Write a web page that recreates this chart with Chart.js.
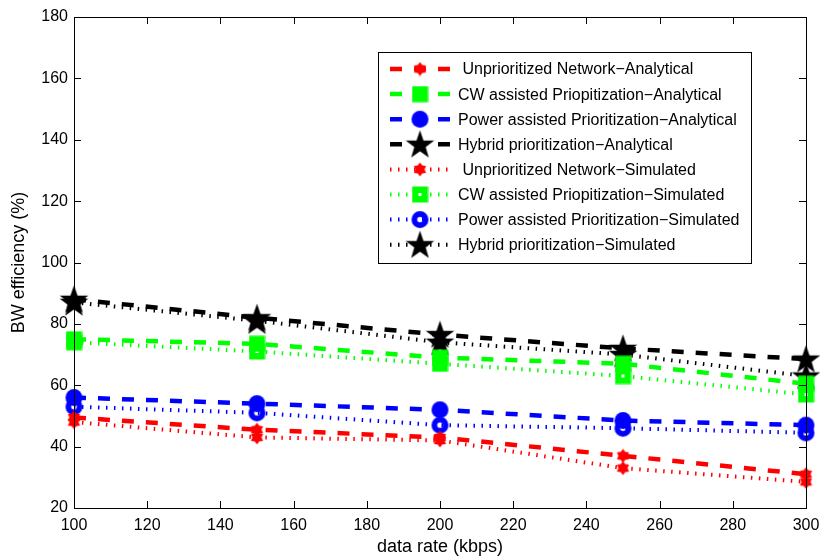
<!DOCTYPE html>
<html>
<head>
<meta charset="utf-8">
<script src="https://cdn.jsdelivr.net/npm/chart.js@4/dist/chart.umd.min.js"></script>
<style>
html,body{margin:0;padding:0;background:#fff;}
#wrap{width:820px;height:560px;}
</style>
</head>
<body>
<div id="wrap"><canvas id="c" width="820" height="560"></canvas></div>
<script>
// ---- data ----
const dataRates = [100, 150, 200, 250, 300];
const unprioritizedAnalytical = [49.5, 45.5, 43, 37, 31];
const cwAnalytical = [75, 73.5, 69, 67, 60.5];
const powerAnalytical = [56, 54, 52, 48.5, 47];
const hybridAnalytical = [88, 82, 76.5, 72, 68.5];
const unprioritizedSimulated = [48, 43, 42, 33, 28.5];
const cwSimulated = [74, 71, 67, 63, 57];
const powerSimulated = [53, 51, 47, 46, 44.5];
const hybridSimulated = [87, 81, 74, 70, 63];
const seriesLabels = [
  ' Unprioritized Network\u2212Analytical',
  'CW assisted Priopitization\u2212Analytical',
  'Power assisted Prioritization\u2212Analytical',
  'Hybrid prioritization\u2212Analytical',
  ' Unprioritized Network\u2212Simulated',
  'CW assisted Priopitization\u2212Simulated',
  'Power assisted Prioritization\u2212Simulated',
  'Hybrid prioritization\u2212Simulated'
];
const xTickValues = [100, 120, 140, 160, 180, 200, 220, 240, 260, 280, 300];
const yTickValues = [20, 40, 60, 80, 100, 120, 140, 160, 180];

// ---- marker images ----
function makeCanvas(size, draw) {
  const c = document.createElement('canvas');
  c.width = size; c.height = size;
  const g = c.getContext('2d');
  draw(g, size / 2);
  return c;
}
function starPath(g, cx, cy, n, rOut, rIn) {
  g.beginPath();
  for (let i = 0; i < 2 * n; i++) {
    const r = i % 2 === 0 ? rOut : rIn;
    const a = -Math.PI / 2 + i * Math.PI / n;
    const x = cx + r * Math.cos(a), y = cy + r * Math.sin(a);
    if (i === 0) g.moveTo(x, y); else g.lineTo(x, y);
  }
  g.closePath();
}
const red = '#ff0000', green = '#00ff00', blue = '#0000ff', black = '#000000';
const hexRed = makeCanvas(15, (g, c) => { starPath(g, c, c, 6, 7, 4.6); g.fillStyle = red; g.fill(); });
const squareGreen = makeCanvas(17, (g, c) => { g.fillStyle = green; g.fillRect(0.5, 0.5, 16, 16); });
const squareGreenDot = makeCanvas(17, (g, c) => { g.fillStyle = green; g.fillRect(0.5, 0.5, 16, 16); g.fillStyle = '#fff'; g.fillRect(c - 1.5, c - 1.5, 3, 3); });
const circleBlue = makeCanvas(19, (g, c) => { g.beginPath(); g.arc(c, c, 8.5, 0, Math.PI * 2); g.fillStyle = blue; g.fill(); });
const ringBlue = makeCanvas(19, (g, c) => { g.beginPath(); g.arc(c, c, 8.5, 0, Math.PI * 2); g.arc(c, c, 2.8, 0, Math.PI * 2, true); g.fillStyle = blue; g.fill('evenodd'); });
const starBlack = makeCanvas(31, (g, c) => { starPath(g, c, c + 1, 5, 15, 6); g.fillStyle = black; g.fill(); });

const dashA = [12, 12];
const dotS = [1.5, 6.5];

function ds(label, values, color, marker, dash, width) {
  return {
    label: label,
    data: dataRates.map((x, i) => ({ x: x, y: values[i] })),
    borderColor: color,
    backgroundColor: color,
    borderWidth: width,
    borderDash: dash,
    pointStyle: marker,
    pointRadius: 8,
    pointHoverRadius: 8,
    tension: 0,
    fill: false,
    clip: false
  };
}

const datasets = [
  ds(seriesLabels[0], unprioritizedAnalytical, red, hexRed, dashA, 4.5),
  ds(seriesLabels[1], cwAnalytical, green, squareGreen, dashA, 4.5),
  ds(seriesLabels[2], powerAnalytical, blue, circleBlue, dashA, 4.5),
  ds(seriesLabels[3], hybridAnalytical, black, starBlack, dashA, 4.5),
  ds(seriesLabels[4], unprioritizedSimulated, red, hexRed, dotS, 4),
  ds(seriesLabels[5], cwSimulated, green, squareGreenDot, dotS, 4),
  ds(seriesLabels[6], powerSimulated, blue, ringBlue, dotS, 4),
  ds(seriesLabels[7], hybridSimulated, black, starBlack, dotS, 4)
];

const FONT = '"Liberation Sans", Arial, Helvetica, sans-serif';

// box + inward ticks
const boxPlugin = {
  id: 'box',
  afterDraw(chart) {
    const { ctx, chartArea: a, scales } = chart;
    ctx.save();
    ctx.strokeStyle = '#000';
    ctx.lineWidth = 1;
    ctx.strokeRect(Math.round(a.left) + 0.5, Math.round(a.top) + 0.5, Math.round(a.right - a.left), Math.round(a.bottom - a.top));
    ctx.beginPath();
    const tl = 7;
    xTickValues.forEach(v => {
      const x = Math.round(scales.x.getPixelForValue(v)) + 0.5;
      ctx.moveTo(x, a.bottom); ctx.lineTo(x, a.bottom - tl);
      ctx.moveTo(x, a.top); ctx.lineTo(x, a.top + tl);
    });
    yTickValues.forEach(v => {
      const y = Math.round(scales.y.getPixelForValue(v)) + 0.5;
      ctx.moveTo(a.left, y); ctx.lineTo(a.left + tl, y);
      ctx.moveTo(a.right, y); ctx.lineTo(a.right - tl, y);
    });
    ctx.stroke();
    ctx.restore();
  }
};

// legend box
const legendPlugin = {
  id: 'matlabLegend',
  afterDraw(chart) {
    const ctx = chart.ctx;
    const bx = 378, by = 52, bw = 373, bh = 211;
    ctx.save();
    ctx.fillStyle = '#fff';
    ctx.fillRect(bx, by, bw, bh);
    ctx.strokeStyle = '#000';
    ctx.lineWidth = 1;
    ctx.strokeRect(bx + 0.5, by + 0.5, bw, bh);
    ctx.font = '16px ' + FONT;
    ctx.textBaseline = 'middle';
    ctx.fillStyle = '#000';
    chart.data.datasets.forEach((d, i) => {
      const y = by + 17 + i * 25.1;
      ctx.save();
      ctx.strokeStyle = d.borderColor;
      ctx.lineWidth = d.borderWidth;
      ctx.setLineDash(d.borderDash);
      ctx.beginPath();
      ctx.moveTo(390, y); ctx.lineTo(453, y);
      ctx.stroke();
      ctx.restore();
      const img = d.pointStyle;
      ctx.drawImage(img, 420 - img.width / 2, y - img.height / 2);
      ctx.fillText(d.label, 458, y + 1);
    });
    ctx.restore();
  }
};

new Chart(document.getElementById('c'), {
  type: 'line',
  data: { datasets: datasets },
  options: {
    responsive: false,
    animation: false,
    events: [],
    layout: { padding: { top: 17, right: 14, left: 0, bottom: 0 } },
    plugins: { legend: { display: false }, tooltip: { enabled: false } },
    scales: {
      x: {
        type: 'linear',
        min: 100, max: 300,
        afterFit(s) { s.height = 52; s.paddingLeft = 0; s.paddingRight = 0; },
        afterBuildTicks(s) { s.ticks = xTickValues.map(v => ({ value: v })); },
        grid: { display: false, drawTicks: false },
        border: { display: false },
        ticks: { color: '#000', font: { family: FONT, size: 16 }, padding: 8, maxRotation: 0 },
        title: { display: true, text: 'data rate (kbps)', color: '#000', font: { family: FONT, size: 18 }, padding: { bottom: 2, top: 0 } }
      },
      y: {
        type: 'linear',
        min: 20, max: 180,
        afterFit(s) { s.width = 74; s.paddingTop = 0; s.paddingBottom = 0; },
        afterBuildTicks(s) { s.ticks = yTickValues.map(v => ({ value: v })); },
        grid: { display: false, drawTicks: false },
        border: { display: false },
        ticks: { color: '#000', font: { family: FONT, size: 16 }, padding: 6 },
        title: { display: true, text: 'BW efficiency (%)', color: '#000', font: { family: FONT, size: 18 }, padding: { top: 8, bottom: 0 } }
      }
    }
  },
  plugins: [boxPlugin, legendPlugin]
});
</script>
</body>
</html>
